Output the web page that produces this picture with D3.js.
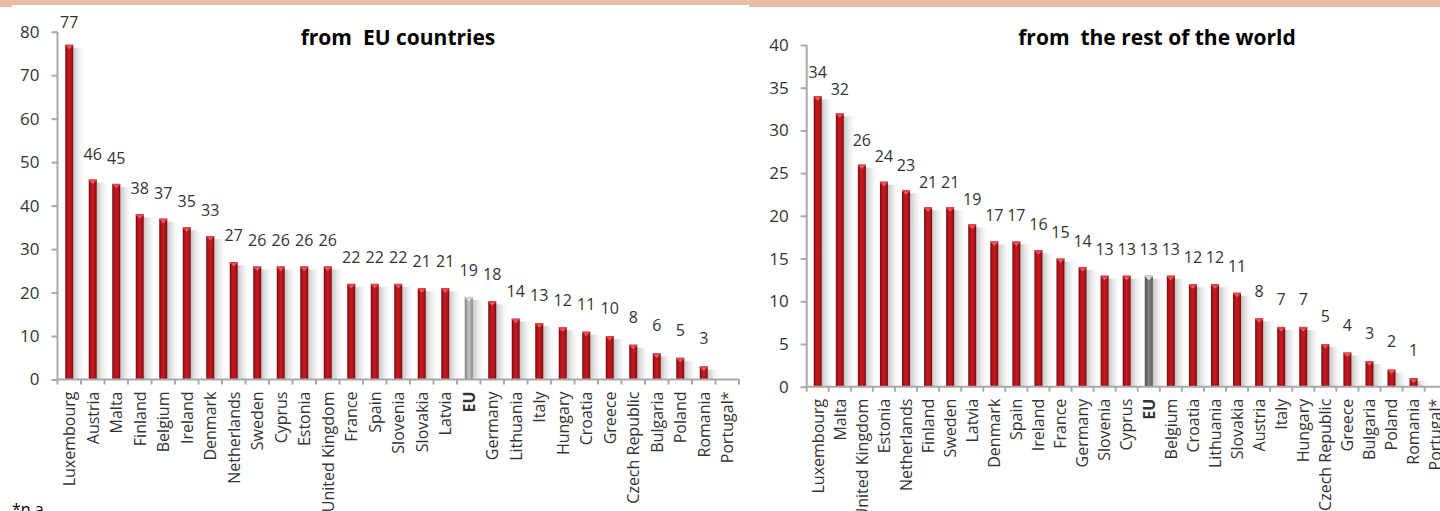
<!DOCTYPE html>
<html>
<head>
<meta charset="utf-8">
<script src="https://cdn.jsdelivr.net/npm/d3@7"></script>
<style>
  html, body { margin: 0; padding: 0; background: #fff; }
  svg { display: block; font-family: "Open Sans", "DejaVu Sans", sans-serif; }
</style>
</head>
<body>
<svg id="chart" width="1440" height="511"></svg>
<script>
// Panel 1: from EU countries
const euCountries = ["Luxembourg","Austria","Malta","Finland","Belgium","Ireland","Denmark","Netherlands","Sweden","Cyprus","Estonia","United Kingdom","France","Spain","Slovenia","Slovakia","Latvia","EU","Germany","Lithuania","Italy","Hungary","Croatia","Greece","Czech Republic","Bulgaria","Poland","Romania","Portugal*"];
const euValues = [77,46,45,38,37,35,33,27,26,26,26,26,22,22,22,21,21,19,18,14,13,12,11,10,8,6,5,3,null];
const euTicks = [0,10,20,30,40,50,60,70,80];

// Panel 2: from the rest of the world
const worldCountries = ["Luxembourg","Malta","United Kingdom","Estonia","Netherlands","Finland","Sweden","Latvia","Denmark","Spain","Ireland","France","Germany","Slovenia","Cyprus","EU","Belgium","Croatia","Lithuania","Slovakia","Austria","Italy","Hungary","Czech Republic","Greece","Bulgaria","Poland","Romania","Portugal*"];
const worldValues = [34,32,26,24,23,21,21,19,17,17,16,15,14,13,13,13,13,12,12,11,8,7,7,5,4,3,2,1,null];
const worldTicks = [0,5,10,15,20,25,30,35,40];

const titles = ["from  EU countries", "from  the rest of the world"];
const footnote = "*n.a.";

const svg = d3.select("#chart");
const defs = svg.append("defs");

function hGrad(id, stops) {
  const g = defs.append("linearGradient").attr("id", id)
    .attr("x1", "0%").attr("x2", "100%").attr("y1", "0%").attr("y2", "0%");
  stops.forEach(([o, c, op]) => g.append("stop").attr("offset", o).attr("stop-color", c).attr("stop-opacity", op == null ? 1 : op));
}
hGrad("redBar", [["0%", "#6f0a0c"], ["25%", "#b3141a"], ["50%", "#c8191f"], ["80%", "#a91318"], ["100%", "#660909"]]);
hGrad("greyBarLight", [["0%", "#7e7e7e"], ["30%", "#a8a8a8"], ["55%", "#c4c4c4"], ["85%", "#9a9a9a"], ["100%", "#777"]]);
hGrad("greyBarDark", [["0%", "#4a4a4a"], ["30%", "#6e6e6e"], ["55%", "#858585"], ["85%", "#666"], ["100%", "#474747"]]);
hGrad("shadow", [["0%", "#bdbdbd", 0.9], ["35%", "#dadada", 0.7], ["100%", "#ffffff", 0]]);

// Header bands
const band = "#e8bda3";
svg.append("rect").attr("x", 0).attr("y", 0).attr("width", 12).attr("height", 7).attr("fill", band);
svg.append("rect").attr("x", 12).attr("y", 0).attr("width", 737).attr("height", 5).attr("fill", band);
svg.append("rect").attr("x", 749).attr("y", 0).attr("width", 691).attr("height", 7).attr("fill", band);

function drawPanel(cfg) {
  const { cats, vals, ticks, x0, x1, yBottom, yTop, title, titleX, greyId } = cfg;
  const vmax = ticks[ticks.length - 1];
  const x = d3.scaleBand().domain(cats).range([x0, x1]).paddingInner(0).paddingOuter(0);
  const y = d3.scaleLinear().domain([0, vmax]).range([yBottom, yTop]);
  const g = svg.append("g");
  const bw = 8;
  const axisColor = "#a9a9a9";
  const textColor = "#333333";

  const data = cats.map((c, i) => ({ c, v: vals[i] })).filter(d => d.v != null);

  // soft shadows to the right of each bar
  g.selectAll("rect.shadow").data(data).join("rect")
    .attr("class", "shadow")
    .attr("x", d => x(d.c) + x.bandwidth() / 2 + bw / 2)
    .attr("y", d => y(d.v) + 3)
    .attr("width", 13)
    .attr("height", d => yBottom - y(d.v) - 3)
    .attr("fill", "url(#shadow)");

  // bars
  g.selectAll("rect.bar").data(data).join("rect")
    .attr("class", "bar")
    .attr("x", d => x(d.c) + x.bandwidth() / 2 - bw / 2)
    .attr("y", d => y(d.v))
    .attr("width", bw)
    .attr("height", d => yBottom - y(d.v))
    .attr("fill", d => d.c === "EU" ? `url(#${greyId})` : "url(#redBar)");

  // bevelled top of each bar
  g.selectAll("rect.cap").data(data).join("rect")
    .attr("class", "cap")
    .attr("x", d => x(d.c) + x.bandwidth() / 2 - bw / 2)
    .attr("y", d => y(d.v))
    .attr("width", bw)
    .attr("height", 1.5)
    .attr("fill", d => d.c === "EU" ? "#d0d0d0" : "#e0474b");
  g.selectAll("path.tip").data(data).join("path")
    .attr("class", "tip")
    .attr("d", d => {
      const cx = x(d.c) + x.bandwidth() / 2, ty = y(d.v) + 1.5;
      return `M${cx - 3},${ty}L${cx + 3},${ty}L${cx},${ty + 3}Z`;
    })
    .attr("fill", d => d.c === "EU" ? "#e6e6e6" : "#f05a5e");

  // value labels
  g.selectAll("text.val").data(data).join("text")
    .attr("class", "val")
    .attr("x", d => x(d.c) + x.bandwidth() / 2)
    .attr("y", d => y(d.v) - (22.5 - 5.5 * d.v / vmax))
    .attr("text-anchor", "middle")
    .attr("font-size", 16)
    .attr("fill", textColor)
    .text(d => d3.format(".0f")(d.v));

  // y axis
  const yAxis = g.append("g").attr("transform", `translate(${x0},0)`)
    .call(d3.axisLeft(y).tickValues(ticks).tickSize(6).tickPadding(12).tickFormat(d3.format("d")));
  yAxis.select(".domain").attr("stroke", axisColor).attr("stroke-width", 2).attr("d", `M0,${yBottom}V${yTop}`);
  yAxis.selectAll(".tick line").attr("stroke", axisColor).attr("stroke-width", 2);
  yAxis.selectAll(".tick text").attr("font-size", 17).attr("fill", textColor).attr("font-family", "Open Sans");

  // x axis with category labels
  const xAxis = g.append("g").attr("transform", `translate(0,${yBottom})`)
    .call(d3.axisBottom(x).tickSize(0).tickPadding(0));
  xAxis.select(".domain").attr("stroke", axisColor).attr("stroke-width", 2).attr("d", `M${x0},0H${x1}`);
  xAxis.selectAll(".tick text")
    .attr("transform", "rotate(-90)")
    .attr("x", -12).attr("y", 0).attr("dy", "0.36em")
    .attr("text-anchor", "end")
    .attr("font-size", 16)
    .attr("font-family", "Open Sans")
    .attr("fill", textColor)
    .attr("font-weight", d => d === "EU" ? "bold" : "normal");

  // tick marks at category boundaries
  const bounds = cats.map(c => x(c)).concat([x1]);
  g.selectAll("line.bt").data(bounds).join("line")
    .attr("class", "bt")
    .attr("x1", d => d).attr("x2", d => d)
    .attr("y1", yBottom).attr("y2", yBottom + 5)
    .attr("stroke", axisColor).attr("stroke-width", 2);

  // title
  svg.append("text")
    .attr("x", titleX).attr("y", 45)
    .attr("text-anchor", "middle")
    .attr("font-size", 21).attr("font-weight", "bold")
    .attr("fill", "#000")
    .style("white-space", "pre")
    .text(title);
}

drawPanel({ cats: euCountries, vals: euValues, ticks: euTicks, x0: 57.5, x1: 739, yBottom: 379.5, yTop: 31.7, title: titles[0], titleX: 398, greyId: "greyBarLight" });
drawPanel({ cats: worldCountries, vals: worldValues, ticks: worldTicks, x0: 806.7, x1: 1446.7, yBottom: 386.7, yTop: 45, title: titles[1], titleX: 1157, greyId: "greyBarDark" });

svg.append("text").attr("x", 12).attr("y", 515).attr("font-size", 16).attr("fill", "#000").text(footnote);
</script>
</body>
</html>
